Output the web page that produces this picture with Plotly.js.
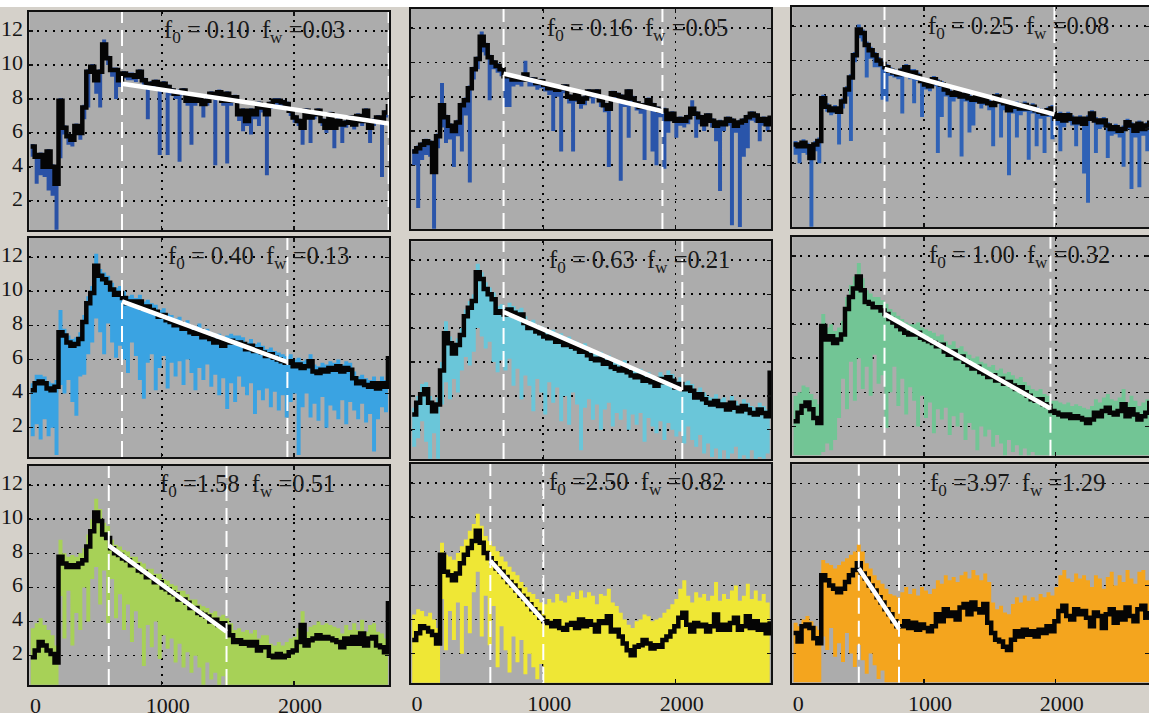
<!DOCTYPE html>
<html><head><meta charset="utf-8">
<script src="https://cdn.plot.ly/plotly-3.0.1.min.js"></script>
<style>html,body{margin:0;padding:0;background:#d5d1ca;}#chart{width:1149px;height:713px;}</style>
</head><body><div id="chart"></div>
<script>
// sample positions (time index)
const X = [10,40,70,100,130,160,190,220,250,280,310,340,370,400,430,460,490,520,550,580,610,640,670,700,730,760,790,820,850,880,910,940,970,1000,1030,1060,1090,1120,1150,1180,1210,1240,1270,1300,1330,1360,1390,1420,1450,1480,1510,1540,1570,1600,1630,1660,1690,1720,1750,1780,1810,1840,1870,1900,1930,1960,1990,2020,2050,2080,2110,2140,2170,2200,2230,2260,2290,2320,2350,2380,2410,2440,2470,2500,2530,2560,2590,2620,2650,2680,2710];

// K = black (smoothed) series, L/H = lower/upper envelope of the coloured raw series
const K_r1c1 = [5.2,4.6,4.7,4.0,4.9,4.0,3.0,7.9,6.3,5.8, 5.6,6.4,6.0,7.5,9.6,9.9,9.1,9.6,11.2,10.4, 9.7,9.7,9.1,9.5,9.4,9.4,9.3,9.6,9.1,8.8, 8.9,9.0,8.7,8.9,8.7,8.5,8.3,8.4,8.5,7.9, 8.1,7.9,8.1,7.7,7.9,8.3,8.1,8.4,7.9,8.3, 7.9,8.1,7.1,7.3,6.7,7.3,7.1,7.7,7.5,7.1, 7.7,7.9,7.9,7.8,7.7,7.3,6.9,6.7,6.3,7.3, 6.9,7.1,7.3,6.7,6.3,7.1,6.3,6.7,6.5,6.6, 6.9,6.5,7.0,6.7,7.3,6.3,6.7,6.9,6.7,7.2,7.7];
const L_r1c1 = [4.6,3.0,3.5,3.4,2.6,2.3,0.3,4.5,5.9,5.3, 5.2,6.0,5.6,6.8,7.5,9.5,8.3,7.5,10.8,10.0, 9.3,8.0,8.7,9.2,9.1,9.1,9.0,9.3,8.8,6.8, 8.6,8.7,4.7,8.6,4.7,8.2,8.0,4.3,8.2,7.6, 5.3,7.6,7.8,6.9,7.6,8.0,4.1,8.1,7.6,4.2, 7.6,7.8,6.7,6.1,6.4,5.9,6.8,6.4,7.2,3.5, 7.4,7.6,7.6,7.5,7.4,7.0,6.6,6.4,5.3,7.0, 5.4,6.8,7.0,6.4,6.0,6.8,5.1,6.4,5.4,6.3, 6.6,6.2,6.7,6.4,7.0,5.4,6.4,6.6,3.4,6.9,7.4];
const H_r1c1 = [5.35,4.75,4.85,4.15,5.05,4.15,3.15,8.05,6.45,5.95, 5.75,6.55,6.15,7.65,9.75,10.05,9.25,9.75,11.5,10.55, 9.85,9.85,9.25,9.65,9.55,9.55,9.45,9.75,9.25,8.95, 9.05,9.15,8.85,9.05,8.85,8.65,8.45,8.55,8.65,8.05, 8.25,8.05,8.25,7.85,8.05,8.45,8.25,8.55,8.05,8.45, 8.05,8.25,7.25,7.45,6.85,7.45,7.25,7.85,7.65,7.25, 7.85,8.05,8.05,7.95,7.85,7.45,7.05,6.85,6.45,7.45, 7.05,7.25,7.45,6.85,6.45,7.25,6.45,6.85,6.65,6.75, 7.05,6.65,7.15,6.85,7.45,6.45,6.85,7.05,6.85,7.35,8.2];

const K_r1c2 = [4.8,5.0,5.2,5.4,5.3,3.6,5.7,7.5,6.8,6.3, 6.0,6.5,7.5,7.8,8.5,9.6,10.2,11.5,11.0,10.3, 10.0,9.8,9.6,9.2,9.2,9.0,9.1,9.0,9.3,9.0, 9.0,8.8,8.9,8.7,8.5,8.6,8.4,8.5,8.6,8.0, 7.9,8.1,7.7,7.9,8.3,8.1,8.3,7.8,7.5,7.3, 8.2,8.1,8.0,7.8,8.3,7.9,7.6,7.4,7.5,7.8, 7.5,7.3,7.2,7.2,6.7,7.0,6.6,6.7,6.6,6.8, 7.3,7.0,6.8,6.4,6.9,6.6,6.3,6.5,6.4,6.7, 6.6,6.3,6.5,6.6,6.8,7.0,6.9,6.6,6.7,6.4,6.9];
const L_r1c2 = [4.0,1.5,4.3,4.6,4.5,0.3,5.0,6.2,5.3,5.5, 3.9,5.7,4.8,6.9,3.0,9.0,9.6,10.6,10.4,7.8, 9.6,9.4,9.2,7.4,7.4,8.6,8.7,8.6,8.9,8.6, 8.6,8.4,8.5,8.3,8.1,6.0,8.0,4.8,8.2,7.6, 4.8,7.7,7.3,7.5,7.9,7.6,7.9,7.4,7.1,3.9, 7.8,7.7,3.1,7.4,5.6,7.5,7.2,7.0,4.3,7.4, 4.8,4.0,6.8,3.8,5.9,6.6,5.6,6.3,6.2,6.4, 6.9,5.6,6.4,6.0,6.5,6.2,5.4,2.5,6.0,6.3, 0.5,5.9,0.4,4.5,5.0,6.6,6.5,5.4,6.3,6.0,6.5];
const H_r1c2 = [4.95,5.15,5.35,5.55,5.45,3.75,5.85,8.8,6.95,6.45, 6.15,6.65,7.65,7.95,8.65,9.75,10.35,11.8,11.15,10.45, 10.15,9.95,9.75,9.35,9.35,9.15,9.25,9.15,10.1,9.15, 9.15,8.95,9.05,8.85,8.65,8.75,8.55,8.65,8.75,8.15, 8.05,8.25,7.85,8.05,8.45,8.25,8.45,7.95,7.65,7.45, 8.35,8.25,8.15,7.95,8.45,8.05,7.75,7.55,7.65,7.95, 7.65,7.45,7.35,7.35,6.85,7.15,6.75,6.85,6.75,6.95, 7.8,7.15,6.95,6.55,7.05,6.75,6.45,6.65,6.55,6.85, 6.75,6.45,6.65,6.75,6.95,7.15,7.05,6.75,6.85,6.55,8.0];

const K_r1c3 = [5.1,5.0,5.2,5.0,4.3,5.1,5.3,7.8,7.3,7.1, 7.2,7.0,7.6,8.3,9.0,10.3,11.8,11.6,10.9,10.6, 10.3,10.0,9.8,9.6,9.4,9.3,9.2,9.4,9.6,9.3, 9.3,9.1,8.8,8.6,8.5,8.9,8.7,8.6,8.3,8.1, 8.0,8.2,7.9,8.0,7.8,7.7,7.9,7.6,7.8,7.5, 7.4,7.9,7.6,7.5,7.1,7.3,7.4,7.2,7.4,7.2, 7.3,7.1,7.0,6.9,7.1,7.2,6.6,6.8,6.5,6.8, 6.6,6.4,6.6,6.3,6.6,6.9,6.5,6.4,6.5,6.2, 6.0,6.1,5.9,6.0,6.4,6.2,5.9,6.3,6.0,6.2,6.5];
const L_r1c3 = [4.5,4.0,4.6,4.5,0.3,4.7,4.0,7.4,7.0,6.8, 6.9,5.1,7.2,7.9,5.3,9.9,11.3,11.1,9.0,10.1, 9.6,9.6,7.7,7.6,9.1,9.0,8.9,6.9,9.2,8.9, 7.5,8.8,6.7,8.3,8.2,8.5,4.6,6.7,7.9,5.5, 7.6,7.8,4.4,7.6,5.8,6.2,7.5,7.2,7.4,7.1, 5.0,7.5,5.5,7.1,3.3,6.9,5.5,6.8,7.0,4.2, 6.9,5.0,6.6,4.6,6.7,5.4,6.2,4.7,6.1,6.4, 6.2,5.0,6.2,3.4,1.7,6.5,4.6,6.0,6.1,4.3, 5.6,5.7,5.5,3.8,6.0,2.5,5.5,2.6,5.6,4.7,6.1];
const H_r1c3 = [5.3,5.2,5.4,5.2,4.5,5.3,5.5,8.0,7.5,7.3, 7.4,7.2,7.8,8.5,9.2,10.5,12.1,11.8,11.1,10.8, 10.5,10.2,10.0,9.8,9.6,9.5,9.4,9.6,9.8,9.5, 9.5,9.3,9.0,8.8,8.7,9.1,8.9,8.8,8.5,8.3, 8.2,8.4,8.1,8.2,8.0,7.9,8.1,7.8,8.0,7.7, 7.6,8.1,7.8,7.7,7.3,7.5,7.6,7.4,7.6,7.4, 7.5,7.3,7.2,7.1,7.3,7.4,6.8,7.0,6.7,7.0, 6.8,6.6,6.8,6.5,6.8,7.1,6.7,6.6,6.7,6.4, 6.2,6.3,6.1,6.2,6.6,6.4,6.1,6.5,6.2,6.4,7.9];

const K_r2c1 = [4.2,4.6,4.7,4.6,4.3,4.2,4.4,7.6,7.4,7.0, 6.8,6.9,7.2,8.2,9.3,9.9,11.5,10.9,10.7,10.5, 10.1,9.8,9.9,9.6,9.3,9.4,9.2,9.4,9.0,9.1, 8.9,8.8,8.5,8.6,8.3,8.2,8.0,8.1,7.8,7.9, 7.6,7.5,7.7,7.3,7.4,7.2,7.0,7.1,6.8,7.0, 7.1,7.0,7.0,6.9,6.6,6.8,6.5,6.6,6.4,6.2, 6.3,6.1,6.0,5.9,5.8,5.9,5.6,5.7,5.5,5.6, 5.9,5.3,5.2,5.4,5.3,5.5,5.4,5.6,5.3,5.5, 5.4,4.9,4.6,4.7,4.5,4.4,4.6,4.3,4.6,4.4,6.2];
const L_r2c1 = [1.5,2.2,1.3,2.5,1.5,2.0,0.4,4.5,4.0,4.8, 3.5,2.7,5.0,5.1,6.3,7.0,8.4,7.6,6.3,8.1, 7.0,6.1,6.8,6.0,5.2,7.0,6.2,4.8,3.7,5.8, 6.3,4.2,5.5,6.2,4.3,5.8,5.0,5.9,4.5,6.0, 5.2,4.2,5.5,4.8,5.7,4.4,5.1,3.9,4.9,3.1, 4.6,3.5,5.0,4.4,3.9,4.6,2.8,4.2,3.6,4.3, 3.2,4.1,3.0,3.9,2.6,3.5,4.0,0.4,3.2,4.0, 2.6,3.4,2.4,3.8,2.0,3.3,3.0,2.5,3.6,2.2, 3.5,3.0,2.5,3.4,2.3,2.8,0.6,2.5,3.2,2.9,4.5];
const H_r2c1 = [4.6,5.1,5.1,5.0,4.7,4.6,4.8,8.9,7.8,7.4, 7.2,7.3,7.6,8.6,9.7,10.3,12.2,11.3,11.1,10.9, 10.5,10.2,10.3,10.0,9.7,9.8,9.6,9.8,9.4,9.5, 9.3,9.2,8.9,9.0,8.7,8.6,8.4,8.5,8.2,8.3, 8.0,7.9,8.1,7.7,7.8,7.6,7.4,7.5,7.2,7.4, 7.5,7.4,7.4,7.3,7.0,7.2,6.9,7.0,6.8,6.6, 6.7,6.5,6.4,6.3,6.2,6.3,6.0,6.1,5.9,6.0, 6.3,5.7,5.6,5.8,5.7,5.9,5.8,6.0,5.7,5.9, 5.8,5.3,5.0,5.1,4.9,4.8,5.0,4.7,5.0,4.8,7.8];

const K_r2c2 = [2.9,3.6,4.1,4.4,3.6,3.1,3.5,5.5,7.7,7.1, 6.5,7.0,7.6,8.7,9.2,9.6,11.3,10.9,10.3,10.0, 9.7,8.9,9.0,8.8,9.1,8.9,8.7,8.8,8.3,8.0, 8.1,7.8,7.7,7.5,7.4,7.5,7.2,7.3,7.0,7.1, 6.9,6.8,6.6,6.7,6.4,6.2,6.1,6.2,5.9,6.0, 5.7,5.6,5.5,5.7,5.4,5.2,5.1,5.2,4.9,5.0, 4.8,4.6,5.0,4.8,5.1,4.9,4.5,4.7,4.4,4.5, 4.3,3.9,4.1,3.8,3.6,3.5,3.7,3.4,3.5,3.2, 3.6,3.3,3.1,3.4,3.2,3.0,2.9,3.2,3.0,2.8,5.5];
const L_r2c2 = [1.0,1.5,2.5,1.3,0.3,1.8,0.3,3.5,4.8,3.8, 5.0,4.2,5.5,6.3,5.8,6.6,8.0,7.5,6.8,7.2, 6.0,5.4,6.1,5.5,6.2,4.6,5.6,3.8,5.2,4.6, 3.1,5.0,4.2,2.9,4.8,3.6,4.5,2.5,4.0,2.3, 4.2,3.5,0.8,3.3,3.8,2.6,3.5,2.0,3.2,3.6, 2.2,3.0,2.6,3.2,2.0,2.9,2.3,3.0,1.3,2.7, 2.2,1.8,2.5,1.4,2.4,2.0,1.6,1.9,1.2,2.2, 1.4,1.0,1.7,0.6,1.2,0.4,0.9,0.3,0.8,0.3, 0.6,1.0,0.3,0.5,0.3,0.8,0.3,0.4,0.3,0.6,1.0];
const H_r2c2 = [3.3,4.0,4.7,4.8,4.0,3.5,3.9,6.0,8.4,7.5, 6.9,7.4,8.0,9.1,9.6,10.0,11.8,11.3,10.7,10.4, 10.1,9.3,9.4,9.2,9.5,9.3,9.1,9.2,8.7,8.4, 8.5,8.2,8.1,7.9,7.8,7.9,7.6,7.7,7.4,7.5, 7.3,7.2,7.0,7.1,6.8,6.6,6.5,6.6,6.3,6.4, 6.1,6.0,5.9,6.1,5.8,5.6,5.5,5.6,5.3,5.4, 5.2,5.0,5.4,5.2,5.5,5.3,4.9,5.1,4.8,4.9, 4.7,4.3,4.5,4.2,4.0,3.9,4.1,3.8,3.9,3.6, 4.0,3.7,3.5,3.8,3.6,3.4,3.3,3.6,3.4,3.2,7.7];

const K_r2c3 = [2.3,2.8,3.2,3.4,3.0,2.5,2.2,7.9,7.1,7.3, 6.9,7.1,7.4,8.9,9.6,10.1,10.8,10.0,9.3,9.2, 9.0,9.0,8.8,8.6,8.3,8.1,7.9,7.7,7.5,7.4, 7.4,7.5,7.2,7.1,7.0,6.9,6.7,6.8,6.4,6.2, 6.4,6.0,6.1,5.8,5.6,5.4,5.5,5.2,5.1,4.9, 5.0,4.7,4.8,4.5,4.6,4.4,4.2,4.3,4.0,3.8, 3.6,3.5,3.6,3.3,3.2,2.9,2.8,2.7,2.6,2.7, 2.5,2.6,2.5,2.4,2.2,2.4,2.8,2.6,2.9,3.1, 2.8,2.7,2.9,3.3,2.6,3.0,2.7,2.4,2.6,2.8,3.5];
const L_r2c3 = [0.3,0.3,0.3,0.3,0.3,0.3,0.3,0.5,1.0,0.6, 1.2,2.5,4.8,3.0,5.8,3.5,6.0,4.2,5.5,3.8, 6.2,4.5,5.0,1.9,4.0,5.5,3.2,4.8,2.7,4.3, 3.5,2.0,3.8,2.5,3.4,1.6,3.0,2.4,3.1,1.5, 2.6,2.0,2.8,1.2,2.2,1.8,0.6,2.0,1.4,1.8, 0.8,1.5,1.0,0.3,1.2,0.5,0.9,0.3,0.7,0.3, 0.5,0.3,0.3,0.3,0.3,0.3,0.3,0.3,0.3,0.3, 0.3,0.3,0.3,0.3,0.3,0.3,0.3,0.3,0.3,0.3, 0.3,0.3,0.3,0.3,0.3,0.3,0.3,0.3,0.3,0.3,0.3];
const H_r2c3 = [3.8,4.0,4.4,4.3,3.9,3.6,3.3,8.6,7.8,8.0, 7.6,7.8,8.2,9.6,10.3,10.8,11.6,10.7,10.0,9.8, 9.6,9.6,9.4,9.2,8.9,8.7,8.5,8.3,8.1,8.0, 8.0,8.1,7.8,7.7,7.6,7.5,7.3,7.4,7.0,6.8, 7.0,6.6,6.7,6.4,6.2,6.0,6.1,5.8,5.7,5.5, 5.6,5.3,5.4,5.1,5.2,5.0,4.8,4.9,4.6,4.4, 4.2,4.1,4.2,3.9,3.8,3.5,3.5,3.4,3.3,3.4, 3.2,3.3,3.2,3.1,3.0,3.2,3.6,3.4,3.7,3.9, 3.6,3.5,3.7,4.2,3.4,3.8,3.5,3.2,3.4,3.6,7.6];

const K_r3c1 = [1.9,2.3,2.8,2.6,2.3,2.1,1.6,7.8,7.4,7.2, 7.3,7.2,7.4,7.6,8.4,9.3,10.4,9.9,9.1,8.9, 8.3,8.0,7.9,7.7,7.6,7.3,7.3,7.0,6.9,6.6, 6.6,6.3,6.3,6.0,5.9,5.7,5.6,5.3,5.3,5.1, 4.8,4.8,4.5,4.4,4.3,4.0,4.1,3.8,3.9,3.7, 3.2,2.8,2.9,2.7,2.8,2.6,2.8,2.3,2.5,2.5, 2.0,1.9,2.1,1.9,2.0,2.2,2.3,2.8,3.8,2.6, 2.9,3.0,3.2,3.0,3.1,3.0,2.9,2.8,2.5,3.0, 2.7,3.1,2.7,3.3,2.6,3.0,3.1,2.6,2.5,2.2,5.2];
const L_r3c1 = [0.3,0.3,0.3,0.3,0.3,0.3,0.3,5.5,3.0,5.8, 2.6,4.5,3.5,6.0,4.0,6.5,7.2,5.0,7.0,3.9, 6.5,4.2,5.6,3.5,5.0,2.8,4.6,3.6,1.4,3.8, 2.5,4.0,1.8,3.2,2.4,3.0,1.6,2.7,1.3,2.2, 1.0,2.0,1.3,0.3,1.6,0.6,1.0,0.3,0.8,0.3, 0.3,0.3,0.3,0.3,0.3,0.3,0.3,0.3,0.3,0.3, 0.3,0.3,0.3,0.3,0.3,0.3,0.3,0.3,0.3,0.3, 0.3,0.3,0.3,0.3,0.3,0.3,0.3,0.3,0.3,0.3, 0.3,0.3,0.3,0.3,0.3,0.3,0.3,0.3,0.3,0.3,0.3];
const H_r3c1 = [3.6,3.9,4.2,3.8,3.5,3.2,2.6,8.8,8.0,7.8, 7.9,7.8,8.0,8.3,9.1,10.0,11.2,10.6,9.8,9.6, 8.8,8.5,8.4,8.2,8.1,7.8,7.8,7.5,7.4,7.1, 7.1,6.8,6.8,6.5,6.4,6.2,6.1,5.8,5.8,5.6, 5.3,5.3,5.0,4.9,4.8,4.5,4.6,4.3,4.4,4.2, 3.9,3.5,3.6,3.4,3.5,3.3,3.5,3.0,3.2,3.2, 2.7,2.6,2.8,2.6,2.8,3.0,3.1,3.6,4.6,3.4, 3.7,3.8,4.0,3.8,3.9,3.8,3.7,3.6,3.3,3.8, 3.5,3.9,3.5,4.1,3.4,3.8,3.9,3.4,3.3,3.0,7.6];

const K_r3c2 = [2.8,3.2,3.6,3.5,3.3,3.1,2.6,7.8,6.8,6.6, 6.3,6.7,7.3,7.8,8.2,8.6,9.2,8.5,7.9,7.6, 7.3,7.0,6.8,6.5,6.2,6.0,5.7,5.4,5.2,4.9, 4.6,4.4,4.1,3.9,3.8,3.6,3.9,3.5,3.4,3.7, 3.8,3.5,4.0,3.6,3.9,3.7,3.3,3.9,3.8,4.2, 3.3,3.4,3.0,2.6,2.2,1.9,2.4,2.5,2.8,2.6, 2.3,2.5,2.4,2.8,3.0,3.3,3.6,4.1,4.4,3.7, 3.3,3.8,3.6,3.7,3.3,3.6,4.3,3.4,3.7,3.4, 3.8,4.1,3.4,3.6,4.2,3.5,3.9,3.4,3.7,3.2,3.9];
const L_r3c2 = [0.3,0.3,0.3,0.3,0.3,0.3,0.3,5.2,2.2,4.5, 2.8,5.0,2.0,4.8,3.2,5.6,6.8,3.0,5.4,2.5, 4.8,1.2,3.6,2.2,0.9,3.0,1.5,2.8,0.8,2.0, 1.2,0.5,1.4,0.3,0.3,0.3,0.3,0.3,0.3,0.3, 0.3,0.3,0.3,0.3,0.3,0.3,0.3,0.3,0.3,0.3, 0.3,0.3,0.3,0.3,0.3,0.3,0.3,0.3,0.3,0.3, 0.3,0.3,0.3,0.3,0.3,0.3,0.3,0.3,0.3,0.3, 0.3,0.3,0.3,0.3,0.3,0.3,0.3,0.3,0.3,0.3, 0.3,0.3,0.3,0.3,0.3,0.3,0.3,0.3,0.3,0.3,0.3];
const H_r3c2 = [4.3,4.6,4.5,4.2,4.4,4.0,3.5,8.5,7.8,7.7, 7.5,7.9,8.3,8.7,9.2,9.6,10.2,9.5,8.9,8.6, 8.3,8.0,7.7,7.4,7.1,6.8,6.6,6.2,5.9,5.6, 5.5,5.2,5.0,4.9,5.2,5.0,5.5,5.1,5.0,5.4, 5.6,5.2,5.7,5.3,5.6,5.4,4.9,5.5,5.4,5.8, 5.0,4.8,4.4,4.0,3.7,3.5,3.9,4.0,4.3,4.2, 3.9,4.0,4.1,4.4,4.6,4.9,5.2,5.8,6.3,5.4, 5.0,5.6,5.3,5.5,5.1,5.4,6.2,5.1,5.5,5.2, 5.7,6.0,5.1,5.4,6.1,5.2,5.7,5.1,5.5,5.0,7.4];

const K_r3c3 = [3.2,2.7,3.6,3.7,3.5,2.9,2.6,6.6,6.3,6.0, 5.8,5.6,5.8,6.2,6.6,6.9,7.3,6.7,6.4,6.0, 5.7,5.3,5.0,4.6,4.3,3.9,3.6,3.6,3.9,3.5, 3.8,3.4,3.7,3.5,3.3,3.6,4.3,3.9,4.6,4.2, 4.4,4.0,4.7,4.9,4.3,5.0,4.6,4.4,4.9,3.8, 3.2,2.8,2.7,2.4,2.2,2.8,3.3,3.0,3.4,3.1, 3.3,3.0,3.4,3.2,3.6,3.3,3.9,4.5,4.8,4.2, 4.0,4.6,4.3,4.5,4.1,3.6,4.4,4.2,3.5,4.3, 4.6,3.8,4.4,4.0,4.7,4.2,3.9,4.6,4.8,4.1,4.5];
const L_r3c3 = [0.3,0.3,0.3,0.3,0.3,0.3,0.3,3.0,2.2,3.5, 1.8,2.6,1.5,3.2,2.0,1.2,2.5,1.6,0.8,2.0, 1.3,0.5,1.0,0.3,0.3,0.3,0.3,0.3,0.3,0.3, 0.3,0.3,0.3,0.3,0.3,0.3,0.3,0.3,0.3,0.3, 0.3,0.3,0.3,0.3,0.3,0.3,0.3,0.3,0.3,0.3, 0.3,0.3,0.3,0.3,0.3,0.3,0.3,0.3,0.3,0.3, 0.3,0.3,0.3,0.3,0.3,0.3,0.3,0.3,0.3,0.3, 0.3,0.3,0.3,0.3,0.3,0.3,0.3,0.3,0.3,0.3, 0.3,0.3,0.3,0.3,0.3,0.3,0.3,0.3,0.3,0.3,0.3];
const H_r3c3 = [3.8,3.6,4.0,4.2,3.9,3.6,3.4,7.5,7.3,7.2, 7.0,7.2,7.4,7.6,7.8,8.0,8.4,8.0,7.3,7.0, 6.6,6.3,6.1,5.8,5.5,5.4,5.3,5.6,5.9,5.5, 5.8,5.4,5.9,5.7,5.5,5.8,6.3,6.1,6.6,6.3, 6.5,6.2,6.6,6.8,6.4,6.9,6.6,6.3,6.7,6.2, 5.0,4.6,4.8,4.4,4.3,4.9,5.3,5.0,5.4,5.1, 5.3,5.1,5.5,5.3,5.6,5.4,5.9,6.6,6.9,6.4, 6.2,6.7,6.4,6.6,6.3,5.9,6.6,6.4,5.8,6.5, 6.8,6.0,6.6,6.2,6.9,6.4,6.1,6.8,6.9,6.3,6.7];

// fit windows and fitted line end values
const WIN_START = [700, 700, 700, 700, 700, 700, 600, 600, 505];
const WIN_END   = [2715, 1900, 1990, 1950, 2050, 1960, 1490, 1000, 810];
const FIT_Y0    = [8.9, 9.35, 9.5, 9.4, 8.95, 8.6, 8.45, 7.45, 7.0];
const FIT_Y1    = [6.55, 7.15, 6.85, 5.85, 4.35, 3.05, 3.4, 3.95, 3.45];
const LABELS = [
  "f<sub>0</sub> = 0.10  f<sub>w</sub> =0.03",
  "f<sub>0</sub> = 0.16  f<sub>w</sub> =0.05",
  "f<sub>0</sub> = 0.25  f<sub>w</sub> =0.08",
  "f<sub>0</sub> = 0.40  f<sub>w</sub> =0.13",
  "f<sub>0</sub> = 0.63  f<sub>w</sub> =0.21",
  "f<sub>0</sub> = 1.00  f<sub>w</sub> =0.32",
  "f<sub>0</sub> =1.58  f<sub>w</sub> =0.51",
  "f<sub>0</sub> =2.50  f<sub>w</sub> =0.82",
  "f<sub>0</sub> =3.97  f<sub>w</sub> =1.29"
];
const X_TICKS = [0, 1000, 2000];
const Y_TICKS = [2, 4, 6, 8, 10, 12];

// ---- layout / style (not data) ----
const W = 1149, HGT = 713;
const SERIES = [
  [K_r1c1, L_r1c1, H_r1c1], [K_r1c2, L_r1c2, H_r1c2], [K_r1c3, L_r1c3, H_r1c3],
  [K_r2c1, L_r2c1, H_r2c1], [K_r2c2, L_r2c2, H_r2c2], [K_r2c3, L_r2c3, H_r2c3],
  [K_r3c1, L_r3c1, H_r3c1], [K_r3c2, L_r3c2, H_r3c2], [K_r3c3, L_r3c3, H_r3c3]
];
const COLORS = ['#2a52a6','#2a55aa','#2f62b6','#3aa3e2','#6ac6d9','#72c595','#a7d157','#efe735','#f4a51e'];
const COLPX = [[29.4, 389, 2718], [410.9, 771, 2720], [792.3, 1149, 2708]];
const TOPS = [[12, 9, 7], [238, 241.3, 237], [466, 464, 464.3]];
const BOTS = [[230, 229, 227], [457, 459, 455.7], [685, 683, 682.7]];
const ANN_X = [1705, 1711, 1714, 1728, 1730, 1725, 1649, 1705, 1706];
const FONT = 'Liberation Serif, Times New Roman, serif';

const traces = [];
const layout = {
  width: W, height: HGT,
  margin: {l: 0, r: 0, t: 0, b: 0},
  paper_bgcolor: '#d5d1ca', plot_bgcolor: '#acacac',
  showlegend: false,
  shapes: [{type: 'rect', xref: 'paper', yref: 'paper', x0: 0, x1: 1, y0: (HGT - 7) / HGT, y1: 1,
            fillcolor: '#ffffff', line: {width: 0}, layer: 'below'}],
  annotations: []
};

for (let i = 0; i < 9; i++) {
  const r = Math.floor(i / 3), c = i % 3;
  const n = i === 0 ? '' : String(i + 1);
  const xa = 'x' + n, ya = 'y' + n;
  const [K, L, H] = SERIES[i];
  const cp = COLPX[c];
  layout['xaxis' + n] = {
    domain: [cp[0] / W, Math.min(1, cp[1] / W)], range: [0, cp[2]], anchor: ya,
    tickvals: X_TICKS, showticklabels: r === 2,
    tickfont: {family: FONT, size: 22, color: '#151515'},
    ticks: 'inside', ticklen: 4, tickwidth: 1.2, tickcolor: '#111',
    ticklabelshift: 6, ticklabelstandoff: 0,
    showgrid: true, gridcolor: '#000', griddash: '2px,6px', gridwidth: 1.6,
    zeroline: false, showline: true, mirror: 'ticks', linecolor: '#111', linewidth: 2,
    fixedrange: true
  };
  layout['yaxis' + n] = {
    domain: [(HGT - BOTS[r][c]) / HGT, (HGT - TOPS[r][c]) / HGT], range: [0.28, 13.12], anchor: xa,
    tickvals: Y_TICKS, showticklabels: c === 0,
    tickfont: {family: FONT, size: 22, color: '#151515'},
    ticks: 'inside', ticklen: 4, tickwidth: 1.2, tickcolor: '#111',
    ticklabelshift: -3,
    showgrid: true, gridcolor: '#000', griddash: '2px,6px', gridwidth: 1.6,
    zeroline: false, showline: true, mirror: 'ticks', linecolor: '#111', linewidth: 2,
    fixedrange: true
  };
  // coloured raw-series envelope (filled between lower and upper)
  traces.push({type: 'scatter', mode: 'lines', x: X, y: L, xaxis: xa, yaxis: ya,
               line: {width: 0, shape: 'hv'}, hoverinfo: 'skip'});
  traces.push({type: 'scatter', mode: 'lines', x: X, y: H, xaxis: xa, yaxis: ya,
               line: {width: 0, shape: 'hv'}, fill: 'tonexty', fillcolor: COLORS[i], hoverinfo: 'skip'});
  // black smoothed series
  traces.push({type: 'scatter', mode: 'lines', x: X, y: K, xaxis: xa, yaxis: ya,
               line: {width: 4.5, shape: 'hv', color: '#050505'}, hoverinfo: 'skip'});
  // white fitted line
  traces.push({type: 'scatter', mode: 'lines', x: [WIN_START[i], WIN_END[i]], y: [FIT_Y0[i], FIT_Y1[i]],
               xaxis: xa, yaxis: ya, line: {width: 4.5, color: '#ffffff'}, hoverinfo: 'skip'});
  // dashed window boundaries
  [WIN_START[i], WIN_END[i]].forEach(function (xv) {
    layout.shapes.push({type: 'line', xref: xa, yref: ya + ' domain', x0: xv, x1: xv, y0: 0, y1: 1,
                        line: {color: '#ffffff', width: 2, dash: '16px,7px'}, layer: 'above'});
  });
  layout.annotations.push({
    xref: xa, yref: ya, x: ANN_X[i], y: 11.95, xanchor: 'center', yanchor: 'middle',
    text: LABELS[i].replace(/ /g, '\u00a0'), showarrow: false,
    font: {family: FONT, size: 24.5, color: '#1a1a1a'}
  });
}

Plotly.newPlot('chart', traces, layout, {displayModeBar: false, staticPlot: true});
</script>
</body></html>
